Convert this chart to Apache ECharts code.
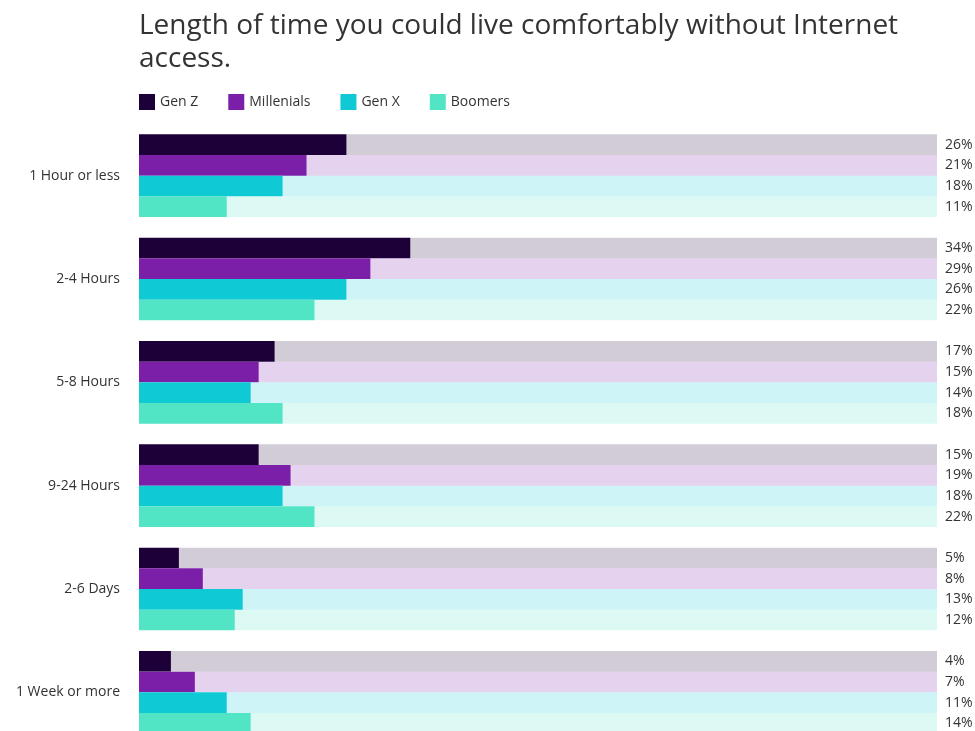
<!DOCTYPE html>
<html>
<head>
<meta charset="utf-8">
<script src="https://cdn.jsdelivr.net/npm/echarts@6/dist/echarts.min.js"></script>
<style>
  html, body { margin: 0; padding: 0; background: #fff; overflow: hidden; }
  /* taller than the window: the last group runs past the bottom edge, as in the original */
  #chart { width: 975px; height: 744px; }
</style>
</head>
<body>
<div id="chart"></div>
<script>
const categories = ["1 Hour or less", "2-4 Hours", "5-8 Hours", "9-24 Hours", "2-6 Days", "1 Week or more"];
const genZ = [26, 34, 17, 15, 5, 4];
const millenials = [21, 29, 15, 19, 8, 7];
const genX = [18, 26, 14, 18, 13, 11];
const boomers = [11, 22, 18, 22, 12, 14];

const groups = [
  { name: "Gen Z", data: genZ, color: "#1e0038" },
  { name: "Millenials", data: millenials, color: "#7b1ea8" },
  { name: "Gen X", data: genX, color: "#0fcad5" },
  { name: "Boomers", data: boomers, color: "#52e5c5" },
];

const font = "'Open Sans', 'Noto Sans', sans-serif";
const myChart = echarts.init(document.getElementById("chart"));

const series = [];
groups.forEach((g) => {
  series.push({
    name: g.name,
    type: "bar",
    stack: g.name,
    data: g.data,
    itemStyle: { color: g.color },
    barGap: "0%",
    barCategoryGap: "20%",
  });
  // the rest up to 100%, drawn lighter, carries the value label
  series.push({
    name: g.name + " rest",
    type: "bar",
    stack: g.name,
    data: g.data.map((v) => 100 - v),
    itemStyle: { color: echarts.color.modifyAlpha(g.color, 0.2) },
    barGap: "0%",
    barCategoryGap: "20%",
    label: {
      show: true,
      position: "right",
      distance: 8,
      color: "#333",
      fontSize: 14,
      fontFamily: font,
      formatter: (p) => g.data[p.dataIndex] + "%",
    },
    silent: true,
  });
});

const option = {
  animation: false,
  title: {
    text: "Length of time you could live comfortably without Internet\naccess.",
    left: 134,
    top: 5,
    textStyle: {
      fontFamily: font,
      fontSize: 28,
      fontWeight: "normal",
      color: "#333",
      lineHeight: 33,
    },
  },
  legend: {
    data: groups.map((g) => g.name),
    left: 139,
    top: 94,
    icon: "rect",
    itemWidth: 16,
    itemHeight: 16,
    itemGap: 30,
    padding: 0,
    textStyle: { fontFamily: font, fontSize: 14, color: "#333" },
  },
  grid: { left: 139, top: 124, width: 798, bottom: 0 },
  xAxis: {
    type: "value",
    min: 0,
    max: 100,
    show: false,
  },
  yAxis: {
    type: "category",
    data: categories,
    inverse: true,
    axisLine: { show: false },
    axisTick: { show: false },
    axisLabel: {
      margin: 19,
      fontSize: 14,
      fontFamily: font,
      color: "#333",
    },
  },
  series: series,
};

myChart.setOption(option);
</script>
</body>
</html>
